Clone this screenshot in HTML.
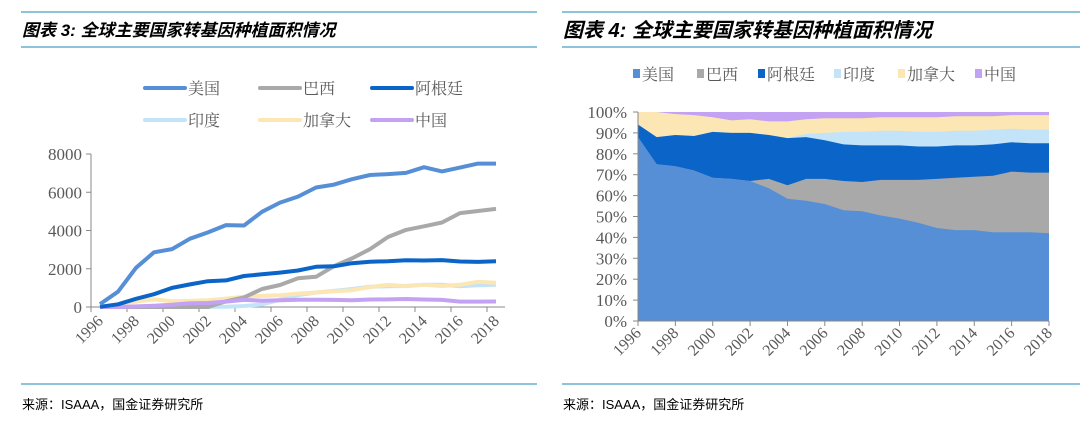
<!DOCTYPE html>
<html><head><meta charset="utf-8">
<style>
html,body{margin:0;padding:0;background:#fff;}
svg text{font-family:"Liberation Serif","Noto Serif CJK SC",serif;fill:#595959;}
.t{font-family:"Liberation Sans","Noto Sans CJK SC",sans-serif;font-style:italic;font-weight:bold;fill:#000;}
.s{font-family:"Liberation Sans","Noto Sans CJK SC",sans-serif;font-size:13px;fill:#000;}
</style></head>
<body>
<svg id="svg" width="1080" height="419" xmlns="http://www.w3.org/2000/svg">
<g>
<line x1="21" y1="12" x2="537" y2="12" stroke="#8ec3dc" stroke-width="2"/>
<line x1="21" y1="47" x2="537" y2="47" stroke="#8ec3dc" stroke-width="2"/>
<line x1="21" y1="384" x2="537" y2="384" stroke="#8ec3dc" stroke-width="2"/>
<line x1="562" y1="12" x2="1080" y2="12" stroke="#8ec3dc" stroke-width="2"/>
<line x1="562" y1="47" x2="1080" y2="47" stroke="#8ec3dc" stroke-width="2"/>
<line x1="562" y1="384" x2="1080" y2="384" stroke="#8ec3dc" stroke-width="2"/>
</g>
<text class="t" x="22" y="36" font-size="17">图表 3:  全球主要国家转基因种植面积情况</text>
<text class="t" x="563" y="37" font-size="20">图表 4:  全球主要国家转基因种植面积情况</text>
<text class="s" x="22" y="409">来源：ISAAA，国金证券研究所</text>
<text class="s" x="563" y="409">来源：ISAAA，国金证券研究所</text>
<g id="left"></g>
<g id="right"></g>
</svg>
<script>
const years=[1996,1997,1998,1999,2000,2001,2002,2003,2004,2005,2006,2007,2008,2009,2010,2011,2012,2013,2014,2015,2016,2017,2018];
const names=["美国","巴西","阿根廷","印度","加拿大","中国"];
const colors=["#568fd6","#a9a9a9","#0b64c8","#c3e4f8","#fbe6b4","#c3a2f4"];
const usArea=[150,800,2050,2860,3030,3570,3900,4280,4260,4980,5460,5770,6250,6400,6680,6900,6950,7010,7310,7090,7290,7500,7500];
const brArea=[0,0,0,0,0,0,0,300,500,940,1150,1500,1580,2140,2540,3030,3660,4030,4220,4420,4910,5020,5130];
const arArea=[10,140,430,670,1000,1180,1350,1390,1620,1710,1800,1910,2100,2130,2290,2370,2390,2440,2430,2450,2380,2360,2390];
const inArea=[0,0,0,0,0,0,5,10,50,130,380,620,760,840,940,1060,1080,1100,1160,1160,1080,1140,1160];
const caArea=[10,130,280,400,300,320,350,440,540,580,610,700,760,820,880,1040,1160,1080,1160,1100,1160,1310,1270];
const cnArea=[0,0,30,70,120,200,210,280,370,330,350,380,380,370,350,390,400,420,390,370,280,280,290];
const leftTicks=[0,2000,4000,6000,8000];
// cumulative top of each band (%) for the stacked chart
const usTop=[88,75,74,72,68.5,68,67,63.5,58.5,57.5,56,53,52.5,50.5,49,47,44.5,43.5,43.5,42.5,42.5,42.5,42];
const brTop=[88,75,74,72,68.5,68,67,68,65,68,68,67,66.5,67.5,67.5,67.5,68,68.5,69,69.5,71.5,71,71];
const arTop=[94,88,89,88.5,90.5,90,90,89,87.5,88,86.5,84.5,84,84,84,83.5,83.5,84,84,84.5,85.5,85,85];
const inTop=[94,88,89,88.5,90.5,90,90,89,87.5,89.5,90,90.5,90.5,91,91,90.5,90.5,91,91,91.5,92,91.5,91.5];
const caTop=[100,100,99,98.5,97.5,96,96.5,95.5,95.5,96.5,97,97,97,97.5,97.5,97.5,97.5,98,98,98,98.5,98.5,98.5];
const cnTop=[100,100,100,100,100,100,100,100,100,100,100,100,100,100,100,100,100,100,100,100,100,100,100];
const rightTicks=[0,10,20,30,40,50,60,70,80,90,100];

const NS="http://www.w3.org/2000/svg";
function mk(parent,tag,attrs){const e=document.createElementNS(NS,tag);for(const k in attrs)e.setAttribute(k,attrs[k]);parent.appendChild(e);return e;}
const L=document.getElementById('left'),R=document.getElementById('right');

// LEFT chart
const lx=i=>91+18*(i+0.5), ly=v=>307-v/8000*153;
leftTicks.forEach(t=>{
  const tx=mk(L,'text',{x:82,y:ly(t)+6,'text-anchor':'end','font-size':17});
  tx.textContent=t;
  
  
  const tk=mk(L,'line',{x1:86,x2:91,y1:ly(t),y2:ly(t),stroke:'#888'});
  
  
});
const ya=mk(L,'line',{x1:91,x2:91,y1:ly(8000),y2:307,stroke:'#888'});


const xa=mk(L,'line',{x1:91,x2:505,y1:307,y2:307,stroke:'#888'});


for(let k=0;k<=11;k++){const tk=mk(L,'line',{x1:91+36*k,x2:91+36*k,y1:307,y2:312,stroke:'#888'});
  
  }
years.forEach((y,i)=>{if(i%2)return;const x=lx(i)+4,yy=322;
  const tx=mk(L,'text',{x:x,y:yy,'text-anchor':'end','font-size':16,transform:`rotate(-45 ${x} ${yy})`});
  tx.textContent=y;
  
  });
const lineSeries=[usArea,brArea,arArea,inArea,caArea,cnArea];
const order=[5,4,3,1,2,0];
[3,4,1,5,2,0].forEach(s=>{
  const d=lineSeries[s].map((v,i)=>(i?'L':'M')+lx(i).toFixed(1)+','+ly(v).toFixed(1)).join('');
  const p=mk(L,'path',{d:d,fill:'none',stroke:colors[s],'stroke-width':4,'stroke-linejoin':'round'});
  
  
});
const legPos=[[145,88],[260,88],[372,88],[145,120],[260,120],[372,120]];
names.forEach((n,s)=>{const [x,y]=legPos[s];
  const g=mk(L,'g',{});
  
  
  mk(g,'line',{x1:x,x2:x+40,y1:y,y2:y,stroke:colors[s],'stroke-width':4,'stroke-linecap':'round'});
  const t=mk(g,'text',{x:x+43,y:y+6,'font-size':16});t.textContent=n;});

// RIGHT chart
const rx=i=>638+i*(411/22), ry=v=>321-v/100*209;
const tops=[usTop,brTop,arTop,inTop,caTop,cnTop];
for(let s=5;s>=0;s--){
  const top=tops[s].map((v,i)=>rx(i).toFixed(1)+','+ry(v).toFixed(1));
  const d='M'+rx(0)+','+ry(0)+'L'+top.join('L')+'L'+rx(22)+','+ry(0)+'Z';
  const p=mk(R,'path',{d:d,fill:colors[s]});
  
  
}
rightTicks.forEach(t=>{
  const tx=mk(R,'text',{x:627,y:ry(t)+6,'text-anchor':'end','font-size':17});
  tx.textContent=t+'%';
  
  
  const tk=mk(R,'line',{x1:633,x2:638,y1:ry(t),y2:ry(t),stroke:'#888'});
  
  
});
const rya=mk(R,'line',{x1:638,x2:638,y1:ry(100),y2:321,stroke:'#888'});


const rxa=mk(R,'line',{x1:638,x2:1049,y1:321,y2:321,stroke:'#888'});


years.forEach((y,i)=>{if(i%2)return;const x=rx(i);
  const tk=mk(R,'line',{x1:x,x2:x,y1:321,y2:326,stroke:'#888'});
  
  
  const yy=334;
  const tx=mk(R,'text',{x:x+4,y:yy,'text-anchor':'end','font-size':16,transform:`rotate(-45 ${x+4} ${yy})`});
  tx.textContent=y;
  
  });
const rleg=[633,697,758,834,898,975];
names.forEach((n,s)=>{const x=rleg[s],y=74;
  const g=mk(R,'g',{});
  
  
  mk(g,'rect',{x:x,y:y-5,width:7,height:9,fill:colors[s]});
  const t=mk(g,'text',{x:x+9,y:y+6,'font-size':16});t.textContent=n;});
</script>
</body></html>
